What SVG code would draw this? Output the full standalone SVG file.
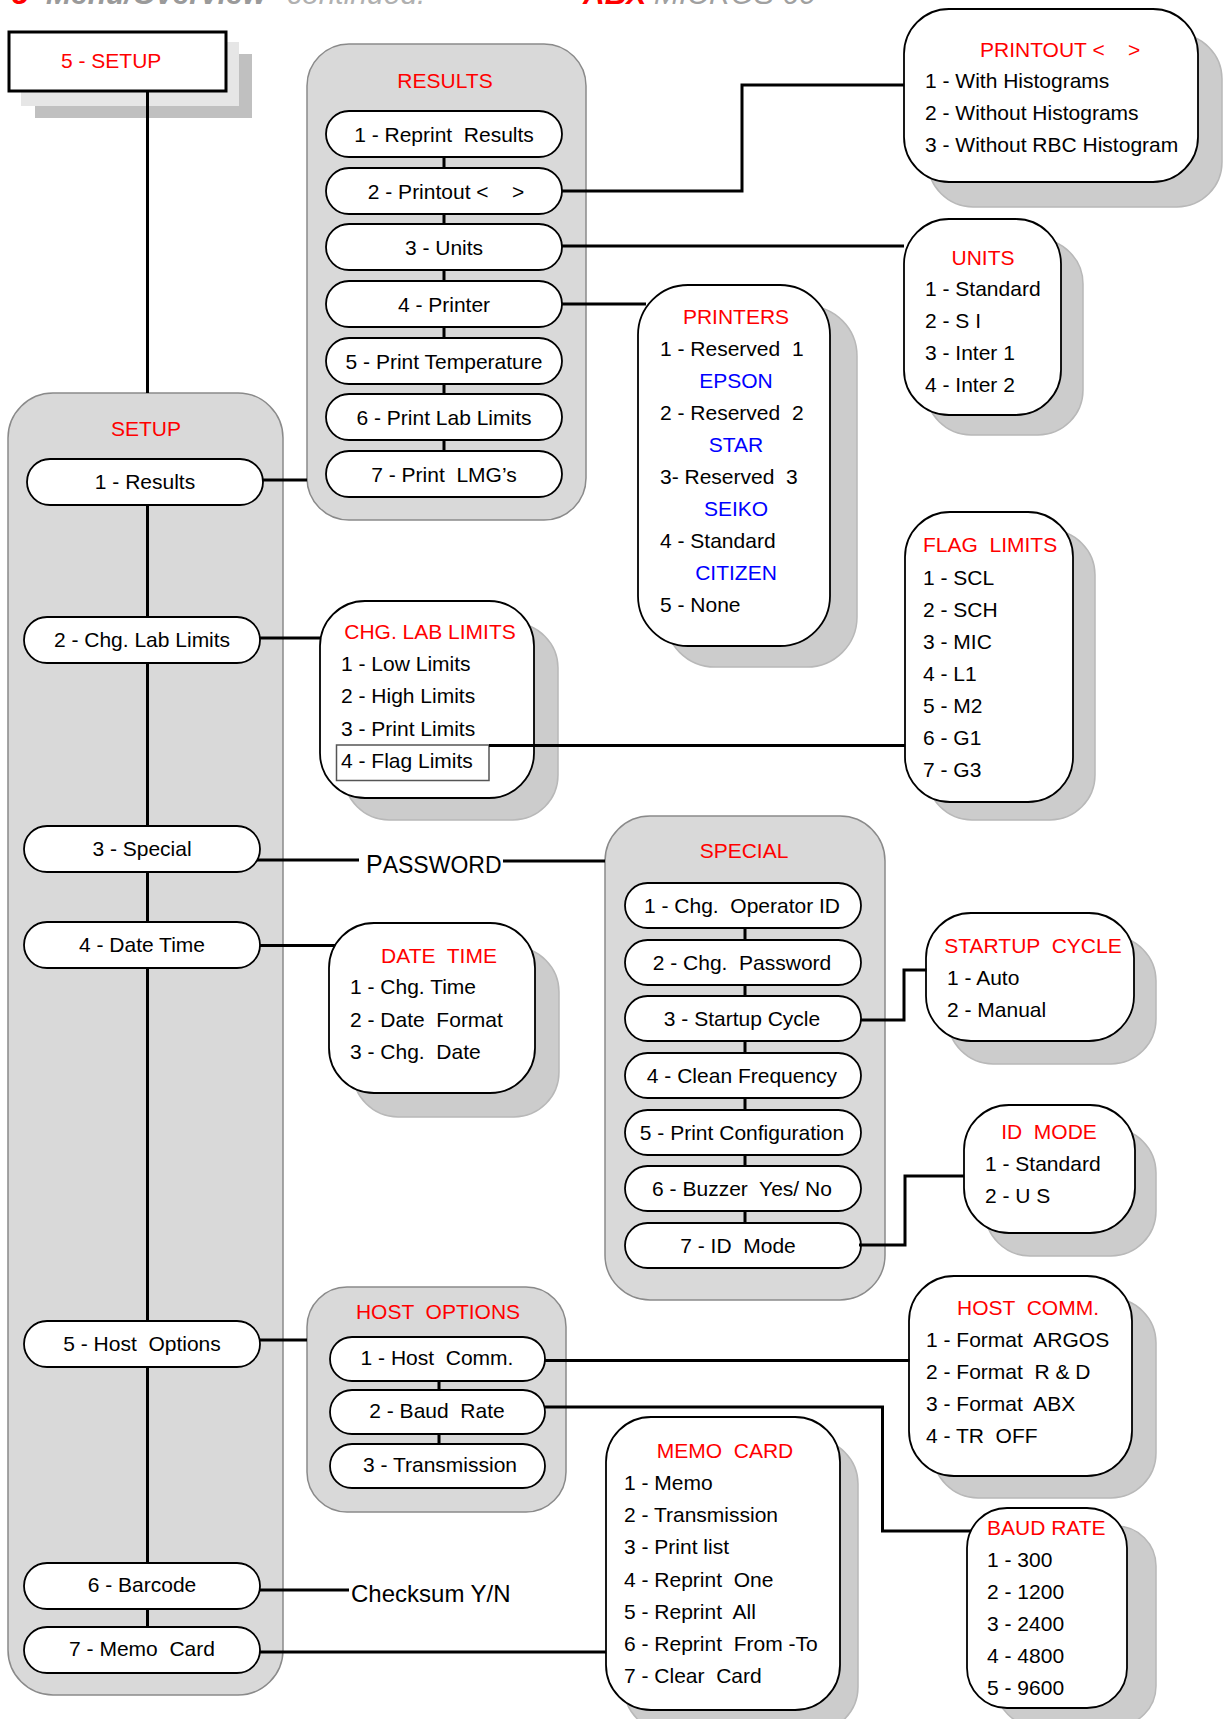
<svg xmlns="http://www.w3.org/2000/svg" width="1224" height="1719" viewBox="0 0 1224 1719" xml:space="preserve">
<defs>
<style>
text{font-family:"Liberation Sans",Arial,Helvetica,sans-serif;font-size:21px;fill:#000;white-space:pre}
.r{fill:#ff0000}
.bl{fill:#0000ff}
.m{text-anchor:middle}
.cont{fill:#d9d9d9;stroke:#8a8a8a;stroke-width:1.5}
.pill{fill:#fff;stroke:#000;stroke-width:1.8}
.box{fill:#fff;stroke:#000;stroke-width:1.8}
.sh{fill:#cccccc;stroke:#b8b8b8;stroke-width:1.5}
.conn{fill:none;stroke:#000;stroke-width:3}
</style>
</defs>
<rect width="1224" height="1719" fill="#fff"/>

<g id="header">
<text x="12" y="4" style="font-size:30px;font-style:italic;font-weight:bold" class="r">5</text>
<text x="46" y="4" style="font-size:30px;font-style:italic;font-weight:bold;fill:#9a9a9a">Menu/Overview</text>
<text x="287" y="4" style="font-size:30px;font-style:italic;fill:#b0b0b0">continued.</text>
<text x="583" y="4" style="font-size:30px;font-style:italic;font-weight:bold" class="r">ABX</text>
<text x="654" y="4" style="font-size:30px;font-style:italic;fill:#a0a0a0">MICROS 60</text>
</g>

<g id="setup-root">
<rect x="35" y="54" width="217" height="64" fill="#c0c0c0"/>
<rect x="21" y="42" width="218" height="64" fill="#e6e6e6"/>
<rect x="9" y="32" width="217" height="59" fill="#fff" stroke="#000" stroke-width="3"/>
<text x="61" y="68" class="r">5 - SETUP</text>
</g>

<g id="setup-container">
<rect class="cont" x="8" y="393" width="275" height="1302" rx="45"/>
<text x="146" y="436" class="r m">SETUP</text>
</g>

<g id="results-container">
<rect class="cont" x="307" y="44" width="279" height="476" rx="42"/>
<text x="445" y="88" class="r m">RESULTS</text>
</g>

<g id="special-container">
<rect class="cont" x="605" y="816" width="280" height="484" rx="45"/>
<text x="744" y="858" class="r m">SPECIAL</text>
</g>

<g id="hostoptions-container">
<rect class="cont" x="307" y="1287" width="259" height="225" rx="40"/>
<text x="438" y="1319" class="r m">HOST  OPTIONS</text>
</g>

<g id="setup-items">
<g id="s1"><rect class="pill" x="27" y="459" width="236" height="46" rx="23"/><text x="145" y="489" class="m">1 - Results</text></g>
<g id="s2"><rect class="pill" x="24" y="617" width="236" height="46" rx="23"/><text x="142" y="647" class="m">2 - Chg. Lab Limits</text></g>
<g id="s3"><rect class="pill" x="24" y="826" width="236" height="46" rx="23"/><text x="142" y="856" class="m">3 - Special</text></g>
<g id="s4"><rect class="pill" x="24" y="922" width="236" height="46" rx="23"/><text x="142" y="952" class="m">4 - Date Time</text></g>
<g id="s5"><rect class="pill" x="24" y="1321" width="236" height="46" rx="23"/><text x="142" y="1351" class="m">5 - Host  Options</text></g>
<g id="s6"><rect class="pill" x="24" y="1563" width="236" height="46" rx="23"/><text x="142" y="1592" class="m">6 - Barcode</text></g>
<g id="s7"><rect class="pill" x="24" y="1627" width="236" height="46" rx="23"/><text x="142" y="1656" class="m">7 - Memo  Card</text></g>
</g>

<g id="results-items">
<g id="r1"><rect class="pill" x="326" y="111" width="236" height="46" rx="23"/><text x="444" y="142" class="m">1 - Reprint  Results</text></g>
<g id="r2"><rect class="pill" x="326" y="168" width="236" height="46" rx="23"/><text x="446" y="199" class="m">2 - Printout &lt;    &gt;</text></g>
<g id="r3"><rect class="pill" x="326" y="224" width="236" height="46" rx="23"/><text x="444" y="255" class="m">3 - Units</text></g>
<g id="r4"><rect class="pill" x="326" y="281" width="236" height="46" rx="23"/><text x="444" y="312" class="m">4 - Printer</text></g>
<g id="r5"><rect class="pill" x="326" y="338" width="236" height="46" rx="23"/><text x="444" y="369" class="m">5 - Print Temperature</text></g>
<g id="r6"><rect class="pill" x="326" y="394" width="236" height="46" rx="23"/><text x="444" y="425" class="m">6 - Print Lab Limits</text></g>
<g id="r7"><rect class="pill" x="326" y="451" width="236" height="46" rx="23"/><text x="444" y="482" class="m">7 - Print  LMG’s</text></g>
</g>

<g id="special-items">
<g id="p1"><rect class="pill" x="625" y="883" width="236" height="45" rx="22.5"/><text x="742" y="913" class="m">1 - Chg.  Operator ID</text></g>
<g id="p2"><rect class="pill" x="625" y="940" width="236" height="45" rx="22.5"/><text x="742" y="970" class="m">2 - Chg.  Password</text></g>
<g id="p3"><rect class="pill" x="625" y="996" width="236" height="45" rx="22.5"/><text x="742" y="1026" class="m">3 - Startup Cycle</text></g>
<g id="p4"><rect class="pill" x="625" y="1053" width="236" height="45" rx="22.5"/><text x="742" y="1083" class="m">4 - Clean Frequency</text></g>
<g id="p5"><rect class="pill" x="625" y="1110" width="236" height="45" rx="22.5"/><text x="742" y="1140" class="m">5 - Print Configuration</text></g>
<g id="p6"><rect class="pill" x="625" y="1166" width="236" height="45" rx="22.5"/><text x="742" y="1196" class="m">6 - Buzzer  Yes/ No</text></g>
<g id="p7"><rect class="pill" x="625" y="1223" width="236" height="45" rx="22.5"/><text x="738" y="1253" class="m">7 - ID  Mode</text></g>
</g>

<g id="host-items">
<g id="h1"><rect class="pill" x="330" y="1337" width="215" height="44" rx="22"/><text x="437" y="1365" class="m">1 - Host  Comm.</text></g>
<g id="h2"><rect class="pill" x="330" y="1390" width="215" height="44" rx="22"/><text x="437" y="1418" class="m">2 - Baud  Rate</text></g>
<g id="h3"><rect class="pill" x="330" y="1444" width="215" height="44" rx="22"/><text x="440" y="1472" class="m">3 - Transmission</text></g>
</g>

<g id="printout-box">
<rect class="sh" x="928" y="34" width="294" height="173" rx="45"/>
<rect class="box" x="904" y="9" width="294" height="173" rx="45"/>
<text x="980" y="57" class="r">PRINTOUT &lt;    &gt;</text>
<text x="925" y="88">1 - With Histograms</text>
<text x="925" y="120">2 - Without Histograms</text>
<text x="925" y="152">3 - Without RBC Histogram</text>
</g>

<g id="units-box">
<rect class="sh" x="926" y="239" width="157" height="196" rx="45"/>
<rect class="box" x="904" y="219" width="157" height="196" rx="45"/>
<text x="983" y="265" class="r m">UNITS</text>
<text x="925" y="296">1 - Standard</text>
<text x="925" y="328">2 - S I</text>
<text x="925" y="360">3 - Inter 1</text>
<text x="925" y="392">4 - Inter 2</text>
</g>

<g id="printers-box">
<rect class="sh" x="665" y="306" width="192" height="361" rx="50"/>
<rect class="box" x="638" y="285" width="192" height="361" rx="50"/>
<text x="736" y="324" class="r m">PRINTERS</text>
<text x="660" y="356">1 - Reserved  1</text>
<text x="736" y="388" class="bl m">EPSON</text>
<text x="660" y="420">2 - Reserved  2</text>
<text x="736" y="452" class="bl m">STAR</text>
<text x="660" y="484">3- Reserved  3</text>
<text x="736" y="516" class="bl m">SEIKO</text>
<text x="660" y="548">4 - Standard</text>
<text x="736" y="580" class="bl m">CITIZEN</text>
<text x="660" y="612">5 - None</text>
</g>

<g id="flaglimits-box">
<rect class="sh" x="927" y="530" width="168" height="290" rx="45"/>
<rect class="box" x="905" y="512" width="168" height="290" rx="45"/>
<text x="923" y="552" class="r">FLAG  LIMITS</text>
<text x="923" y="585">1 - SCL</text>
<text x="923" y="617">2 - SCH</text>
<text x="923" y="649">3 - MIC</text>
<text x="923" y="681">4 - L1</text>
<text x="923" y="713">5 - M2</text>
<text x="923" y="745">6 - G1</text>
<text x="923" y="777">7 - G3</text>
</g>

<g id="chglablimits-box">
<rect class="sh" x="344" y="623" width="214" height="197" rx="45"/>
<rect class="box" x="320" y="601" width="214" height="197" rx="45"/>
<text x="430" y="639" class="r m">CHG. LAB LIMITS</text>
<text x="341" y="671">1 - Low Limits</text>
<text x="341" y="703">2 - High Limits</text>
<text x="341" y="736">3 - Print Limits</text>
<rect x="336.5" y="745" width="152.5" height="35.5" fill="none" stroke="#555" stroke-width="1.5"/>
<text x="341" y="768">4 - Flag Limits</text>
</g>

<g id="datetime-box">
<rect class="sh" x="353" y="947" width="206" height="170" rx="45"/>
<rect class="box" x="329" y="923" width="206" height="170" rx="45"/>
<text x="439" y="963" class="r m">DATE  TIME</text>
<text x="350" y="994">1 - Chg. Time</text>
<text x="350" y="1027">2 - Date  Format</text>
<text x="350" y="1059">3 - Chg.  Date</text>
</g>

<g id="startup-box">
<rect class="sh" x="948" y="936" width="208" height="128" rx="45"/>
<rect class="box" x="926" y="913" width="208" height="128" rx="45"/>
<text x="1033" y="953" class="r m">STARTUP  CYCLE</text>
<text x="947" y="985">1 - Auto</text>
<text x="947" y="1017">2 - Manual</text>
</g>

<g id="idmode-box">
<rect class="sh" x="985" y="1128" width="171" height="128" rx="45"/>
<rect class="box" x="964" y="1105" width="171" height="128" rx="45"/>
<text x="1049" y="1139" class="r m">ID  MODE</text>
<text x="985" y="1171">1 - Standard</text>
<text x="985" y="1203">2 - U S</text>
</g>

<g id="hostcomm-box">
<rect class="sh" x="933" y="1298" width="223" height="200" rx="45"/>
<rect class="box" x="909" y="1276" width="223" height="200" rx="45"/>
<text x="1028" y="1315" class="r m">HOST  COMM.</text>
<text x="926" y="1347">1 - Format  ARGOS</text>
<text x="926" y="1379">2 - Format  R &amp; D</text>
<text x="926" y="1411">3 - Format  ABX</text>
<text x="926" y="1443">4 - TR  OFF</text>
</g>

<g id="baudrate-box">
<rect class="sh" x="996" y="1526" width="160" height="200" rx="40"/>
<rect class="box" x="967" y="1508" width="160" height="200" rx="40"/>
<text x="987" y="1535" class="r">BAUD RATE</text>
<text x="987" y="1567">1 - 300</text>
<text x="987" y="1599">2 - 1200</text>
<text x="987" y="1631">3 - 2400</text>
<text x="987" y="1663">4 - 4800</text>
<text x="987" y="1695">5 - 9600</text>
</g>

<g id="memocard-box">
<rect class="sh" x="624" y="1439" width="234" height="293" rx="45"/>
<rect class="box" x="606" y="1417" width="234" height="293" rx="45"/>
<text x="725" y="1458" class="r m">MEMO  CARD</text>
<text x="624" y="1490">1 - Memo</text>
<text x="624" y="1522">2 - Transmission</text>
<text x="624" y="1554">3 - Print list</text>
<text x="624" y="1587">4 - Reprint  One</text>
<text x="624" y="1619">5 - Reprint  All</text>
<text x="624" y="1651">6 - Reprint  From -To</text>
<text x="624" y="1683">7 - Clear  Card</text>
</g>

<g id="labels">
<text x="366" y="873"><tspan style="font-size:25px">P</tspan><tspan style="font-size:23px">ASSWORD</tspan></text>
<text x="351" y="1602" style="font-size:24px">Checksum Y/N</text>
</g>

<g id="connectors" class="conn">
<path d="M147.5 91.5V393"/>
<path d="M147.5 505V617M147.5 663V826M147.5 872V922M147.5 968V1321M147.5 1367V1563M147.5 1609V1627"/>
<path d="M444 157V168M444 214V224M444 270V281M444 327V338M444 384V394M444 440V451"/>
<path d="M263 480H307"/>
<path d="M562 191H742V85H904"/>
<path d="M562 246H904"/>
<path d="M562 304H646"/>
<path d="M260 638H321"/>
<path d="M489 745.5H905"/>
<path d="M257 860H359"/>
<path d="M503 861H605"/>
<path d="M260 945.5H335"/>
<path d="M745 928V940M745 985V996M745 1041V1053M745 1098V1110M745 1155V1166M745 1211V1223"/>
<path d="M861 1020H904V970H926.5"/>
<path d="M859 1245H905V1176H964"/>
<path d="M260 1340H307"/>
<path d="M439 1381V1390M439 1434V1444"/>
<path d="M545 1360.5H909.5"/>
<path d="M545 1407H882.5V1531H971"/>
<path d="M260 1590H349"/>
<path d="M260 1652H606"/>
</g>
</svg>
